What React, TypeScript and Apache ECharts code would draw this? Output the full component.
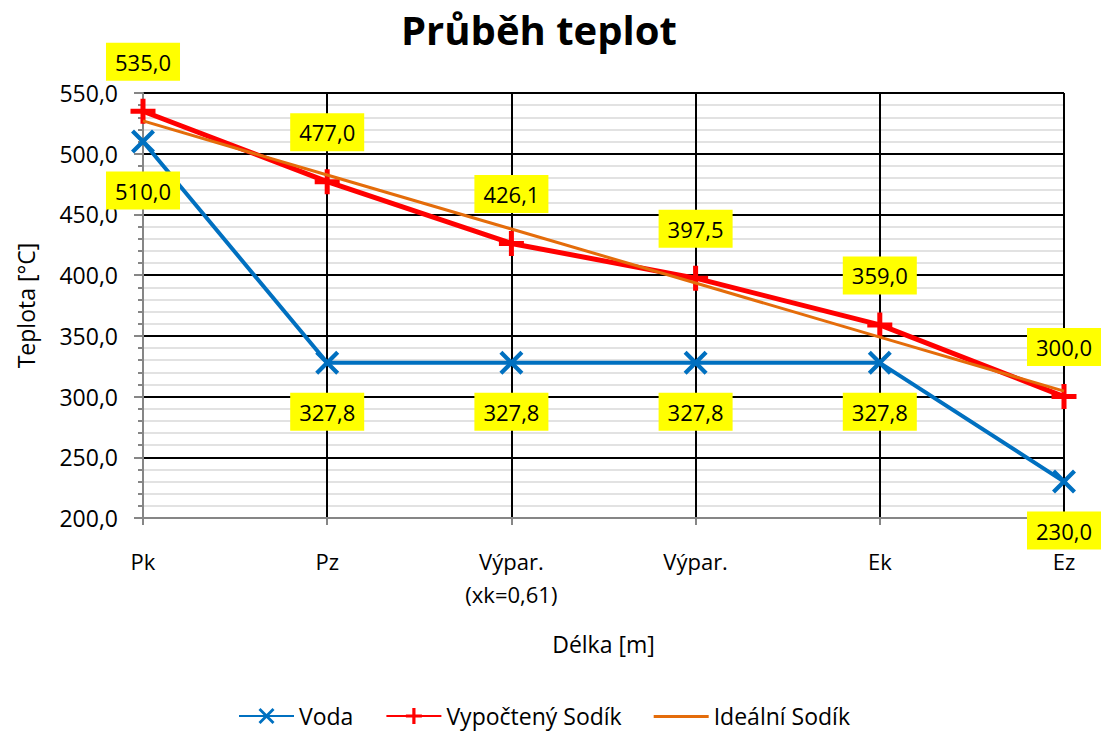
import React, { useEffect, useRef } from "react";
import * as echarts from "echarts";

const categories = ["Pk", "Pz", "Výpar.\n(xk=0,61)", "Výpar.", "Ek", "Ez"];
const vodaValues = [510.0, 327.8, 327.8, 327.8, 327.8, 230.0];
const sodikValues = [535.0, 477.0, 426.1, 397.5, 359.0, 300.0];
const idealValues = [527.0, 482.5, 438.0, 393.5, 349.0, 304.5];
const yMin = 200;
const yMax = 550;
const yInterval = 50;

const FONT = "Open Sans";
const fmt = (v: number) => v.toFixed(1).replace(".", ",");

const X_PATH =
  "path://M0,3 L3,0 L12,9 L21,0 L24,3 L15,12 L24,21 L21,24 L12,15 L3,24 L0,21 L9,12 Z";
const PLUS_PATH =
  "path://M10,0 L15,0 L15,10 L25,10 L25,15 L15,15 L15,25 L10,25 L10,15 L0,15 L0,10 L10,10 Z";
const LINE_ICON =
  "path://M0,0 L0.01,0 L0.01,0.01 L0,0.01 Z M0,9 L55,9 L55,12 L0,12 Z M54.99,20 L55,20 L55,19.99 Z";

const labelBox = (position: "top" | "bottom") => ({
  show: true,
  position,
  distance: 18,
  formatter: (p: any) => fmt(p.value),
  backgroundColor: "#ffff00",
  padding: [7, 9, 7, 9],
  color: "#000",
  fontFamily: FONT,
  fontSize: 22,
  lineHeight: 24,
});

export default function App() {
  const ref = useRef<HTMLDivElement>(null);
  useEffect(() => {
    if (!ref.current) return;
    const chart = echarts.init(ref.current, undefined, { renderer: "svg" });
    chart.setOption({
      animation: false,
      backgroundColor: "#ffffff",
      title: {
        text: "Průběh teplot",
        left: 396,
        top: 4,
        textStyle: { fontFamily: FONT, fontSize: 40, fontWeight: "bold", color: "#000" },
      },
      legend: {
        left: 233,
        top: 698,
        itemWidth: 55,
        itemHeight: 20,
        itemGap: 32,
        textStyle: { fontFamily: FONT, fontSize: 23, color: "#000", lineHeight: 26 },
        data: [
          { name: "Voda" },
          { name: "Vypočtený Sodík" },
          { name: "Ideální Sodík", icon: LINE_ICON },
        ],
      },
      grid: { left: 143, right: 39, top: 93, bottom: 213, containLabel: false },
      xAxis: {
        type: "category",
        data: categories,
        boundaryGap: false,
        name: "Délka [m]",
        nameLocation: "middle",
        nameGap: 114,
        nameTextStyle: { fontFamily: FONT, fontSize: 23, color: "#000" },
        axisLine: { show: true, lineStyle: { color: "#868686", width: 2 } },
        axisTick: { show: true, length: 7, lineStyle: { color: "#868686", width: 2 } },
        axisLabel: {
          margin: 26,
          fontFamily: FONT,
          fontSize: 22,
          lineHeight: 33,
          color: "#000",
          interval: 0,
        },
        splitLine: { show: true, lineStyle: { color: "#000", width: 2 } },
      },
      yAxis: {
        type: "value",
        min: yMin,
        max: yMax,
        interval: yInterval,
        name: "Teplota [°C]",
        nameLocation: "middle",
        nameGap: 106,
        nameRotate: 90,
        nameTextStyle: { fontFamily: FONT, fontSize: 23, color: "#000" },
        axisLine: { show: true, lineStyle: { color: "#868686", width: 2 } },
        axisTick: { show: true, length: 9, lineStyle: { color: "#868686", width: 2 } },
        minorTick: { show: true, splitNumber: 5, length: 5, lineStyle: { color: "#868686", width: 2 } },
        minorSplitLine: { show: true, lineStyle: { color: "#d9d9d9", width: 1.5 } },
        splitLine: { show: true, lineStyle: { color: "#000", width: 2 } },
        axisLabel: {
          margin: 25,
          fontFamily: FONT,
          fontSize: 23,
          color: "#000",
          formatter: (v: number) => fmt(v),
        },
      },
      series: [
        {
          name: "Voda",
          type: "line",
          data: vodaValues,
          symbol: X_PATH,
          symbolSize: 24,
          lineStyle: { color: "#0070c0", width: 4 },
          itemStyle: { color: "#0070c0" },
          label: labelBox("bottom"),
          z: 2,
        },
        {
          name: "Vypočtený Sodík",
          type: "line",
          data: sodikValues,
          symbol: PLUS_PATH,
          symbolSize: 25,
          lineStyle: { color: "#ff0000", width: 5 },
          itemStyle: { color: "#ff0000" },
          label: labelBox("top"),
          z: 3,
        },
        {
          name: "Ideální Sodík",
          type: "line",
          data: idealValues,
          symbol: "none",
          lineStyle: { color: "#e46c0a", width: 3 },
          itemStyle: { color: "#e46c0a" },
          z: 4,
        },
      ],
    });
    return () => chart.dispose();
  }, []);
  return (
    <div
      ref={ref}
      style={{ position: "fixed", left: 0, top: 0, width: 1103, height: 731 }}
    />
  );
}
